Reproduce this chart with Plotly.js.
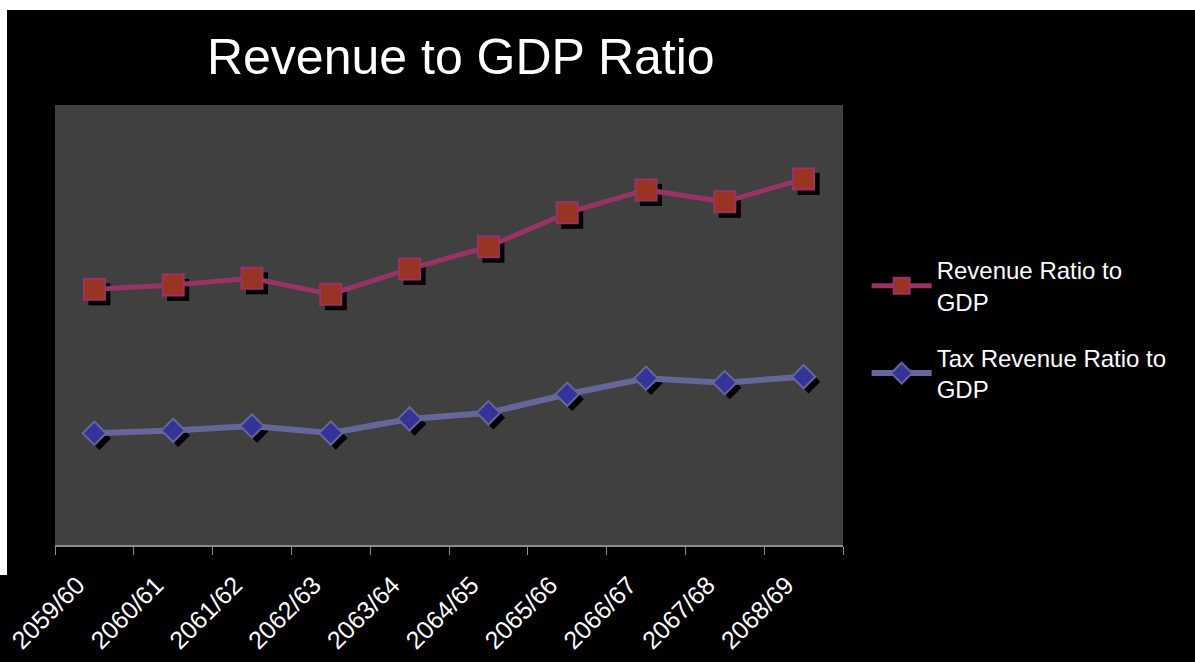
<!DOCTYPE html>
<html>
<head>
<meta charset="utf-8">
<script src="https://cdn.plot.ly/plotly-3.0.1.min.js"></script>
<style>
  html, body { margin: 0; padding: 0; background: #ffffff; width: 1195px; height: 662px; overflow: hidden; position: relative; }
  #chart { position: absolute; left: 7px; top: 10px; width: 1188px; height: 652px; }
  #fill { position: absolute; left: 0; top: 575px; width: 8px; height: 87px; background: #000; }
</style>
</head>
<body>
<div id="chart"></div>
<div id="fill"></div>
<script>
// ---- data ----
const categories = ["2059/60","2060/61","2061/62","2062/63","2063/64","2064/65","2065/66","2066/67","2067/68","2068/69"];
const revenueRatio = [11.62, 11.82, 12.12, 11.40, 12.55, 13.56, 15.10, 16.14, 15.60, 16.64];
const taxRevenueRatio = [5.08, 5.21, 5.41, 5.09, 5.73, 6.01, 6.85, 7.58, 7.38, 7.65];
const seriesNames = ["Revenue Ratio to<br>GDP", "Tax Revenue Ratio to<br>GDP"];

// ---- layout constants ----
const yRange = [0, 20];
const xRange = [-0.5, categories.length - 0.5];
const plotW = 788, plotH = 440;
const shadowPx = 5;
const dx = shadowPx * (xRange[1] - xRange[0]) / plotW;
const dy = shadowPx * (yRange[1] - yRange[0]) / plotH;

const FONT = "Liberation Sans, Arial, sans-serif";

const traces = [
  // shadows (base subplot, drawn below)
  { x: categories, y: revenueRatio, type: "scatter", mode: "markers", xaxis: "x", yaxis: "y",
    marker: { symbol: "square", size: 22, color: "#000000", line: { width: 0 } },
    showlegend: false, hoverinfo: "skip" },
  { x: categories, y: taxRevenueRatio, type: "scatter", mode: "markers", xaxis: "x", yaxis: "y",
    marker: { symbol: "diamond", size: 18, color: "#000000", line: { width: 0 } },
    showlegend: false, hoverinfo: "skip" },
  // main series
  { x: categories, y: revenueRatio, name: seriesNames[0], type: "scatter", mode: "lines+markers",
    xaxis: "x2", yaxis: "y2", legendgroup: "a",
    line: { color: "#993366", width: 5 },
    marker: { symbol: "square", size: 21, color: "#993322", line: { color: "#993366", width: 2 } } },
  { x: categories, y: taxRevenueRatio, name: seriesNames[1], type: "scatter", mode: "lines+markers",
    xaxis: "x2", yaxis: "y2", legendgroup: "b",
    line: { color: "#666699", width: 6 },
    marker: { symbol: "diamond", size: 18, color: "#333399", line: { color: "#666699", width: 2 } } }
];

const layout = {
  width: 1188, height: 652,
  margin: { l: 48, r: 352, t: 95, b: 117 },
  paper_bgcolor: "#000000",
  plot_bgcolor: "#404040",
  font: { family: FONT, color: "#ffffff" },
  title: { text: "Revenue to GDP Ratio", x: 0.515, xref: "paper", xanchor: "center",
           y: 0.928, yref: "container", yanchor: "middle",
           font: { family: FONT, size: 50, color: "#ffffff" } },
  showlegend: true,
  legend: { x: 1.03, xanchor: "left", y: 0.675, yanchor: "top", itemwidth: 60,
            font: { family: FONT, size: 24, color: "#ffffff" },
            bgcolor: "rgba(0,0,0,0)", traceorder: "grouped", tracegroupgap: 22 },
  xaxis: { type: "category", range: [xRange[0] - dx, xRange[1] - dx], visible: false, fixedrange: true },
  yaxis: { range: [yRange[0] + dy, yRange[1] + dy], visible: false, fixedrange: true },
  xaxis2: { type: "category", overlaying: "x", side: "bottom", range: xRange,
            showline: true, linecolor: "#8c8c8c", linewidth: 1.5,
            ticks: "outside", tickson: "boundaries", ticklen: 8, tickcolor: "#8c8c8c", tickwidth: 1,
            tickangle: -45, tickfont: { family: FONT, size: 25, color: "#ffffff" },
            ticklabelstandoff: 14, ticklabelshift: -17,
            showgrid: false, zeroline: false, fixedrange: true },
  yaxis2: { overlaying: "y", range: yRange, visible: false, fixedrange: true }
};

Plotly.newPlot("chart", traces, layout, { displayModeBar: false, staticPlot: true });
</script>
</body>
</html>
